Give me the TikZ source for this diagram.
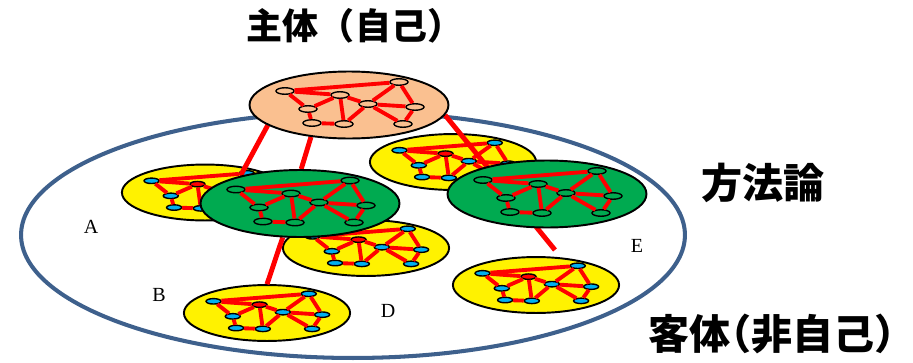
\documentclass[tikz,border=0pt]{standalone}
\usepackage{fontspec}
\setmainfont{Liberation Serif}
\newfontfamily\jpfont{Noto Sans CJK JP}
\newfontfamily\jphalf{Noto Sans CJK JP}[RawFeature=+halt]
\usetikzlibrary{shapes.geometric}
\definecolor{peach}{RGB}{250,192,144}
\definecolor{leaf}{RGB}{0,170,80}
\definecolor{sky}{RGB}{0,176,240}
\definecolor{rim}{RGB}{62,96,140}
\pgfdeclarelayer{back}
\pgfdeclarelayer{mid}
\pgfsetlayers{back,mid,main}

\begin{document}
\begin{tikzpicture}[
x=0.02cm,y=0.02cm,
disc/.style={ellipse,draw,line width=1.1pt,minimum width=3.98cm,minimum height=1.34cm,inner sep=0pt},
dot/.style={ellipse,draw,line width=0.8pt,minimum width=0.36cm,minimum height=0.13cm,inner sep=0pt},
link/.style={red,line width=2.2pt},
tie/.style={red,line width=2.8pt},
small/.style={scale=0.835,transform shape},
title/.style={inner sep=0pt,font=\jpfont\bfseries\fontsize{20.5}{23}\selectfont},
big/.style={inner sep=0pt,font=\jphalf\bfseries\fontsize{23.4}{26}\selectfont},
letter/.style={font=\fontsize{11.4}{13}\selectfont},
pics/net/.style n args={3}{code={
  \node[disc,fill=#1] (-disc) at (0,0) {};
  \foreach \i/\px/\py in {1/-64/14,2/50/23,4/19/1,5/-41/-4,6/66/-2,7/-37/-18,8/-5/-19,9/54/-19}
    \node[dot,fill=#2] (-n\i) at (\px,\py) {};
  \node[dot,fill=#3] (-n3) at (-9,10) {};
  \foreach \a/\b in {1/2,1/3,1/5,3/5,3/4,3/8,4/8,2/4,4/6,4/9,2/6,6/9,5/7,7/8}
    \draw[link] (-n\a) -- (-n\b);
}}
]
\useasboundingbox (0,0) rectangle (913,-362);

% outer field and the objects
\begin{pgfonlayer}{back}
\node[ellipse,draw=rim,line width=2.3pt,minimum width=13.28cm,minimum height=4.92cm] (field) at (353,-235) {};
\pic[small] (A) at (205,-192.5) {net={yellow}{sky}{red}};
\pic[small] (C) at (453,-162) {net={yellow}{sky}{red}};
\pic[small] (D) at (366,-248) {net={yellow}{sky}{red}};
\pic[small] (B) at (267,-313) {net={yellow}{sky}{red}};
\pic[small] (E) at (536,-285) {net={yellow}{sky}{red}};
\end{pgfonlayer}

% methods and the subject
\pic (G) at (300,-203.5) {net={leaf}{leaf}{leaf}};
\pic (H) at (547,-194) {net={leaf}{leaf}{leaf}};
\pic (P) at (349,-105) {net={peach}{peach}{peach}};
\coordinate (gap) at (555,-250);

\begin{pgfonlayer}{mid}
\draw[tie] (P-disc.194) -- (G-disc.155);
\draw[tie] (P-disc.220) -- (G-disc.88);
\draw[tie] (G-disc.243) -- (B-disc.north);
\draw[tie] (P-disc.354) -- (gap);
\end{pgfonlayer}

\node[title] (self) at (355,-26) {主体（自己）};
\node[big] (method) at (763,-183) {方法論};
\node[big] (object) at (772,-334) {客体（非自己）};
\node[letter] (la) at (91,-227) {A};
\node[letter] (lb) at (159,-295) {B};
\node[letter] (ld) at (388,-311) {D};
\node[letter] (le) at (637,-246) {E};
\end{tikzpicture}
\end{document}
